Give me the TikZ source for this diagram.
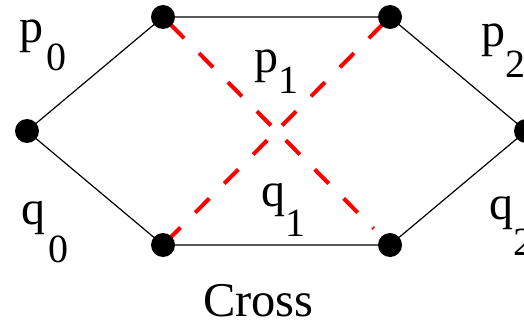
\documentclass[tikz,border=0pt]{standalone}
\usepackage{fontspec}
\setmainfont{Liberation Serif}
\newcommand{\lab}[4]{\fontsize{48}{48}\selectfont #1\kern#4pt\raisebox{-#3pt}{\fontsize{40}{40}\selectfont #2}}
\begin{document}
\begin{tikzpicture}[x=1pt,y=-1pt,
  dot/.style={circle,fill=black,inner sep=0pt,minimum size=24pt},
  edge/.style={line width=1.2pt,black},
  cross/.style={line width=4pt,red,dash pattern=on 20pt off 21pt,dash phase=31pt},
  txt/.style={anchor=base west,inner sep=0pt,outer sep=0pt}]
\useasboundingbox (0,0) rectangle (524,326);
\coordinate (l) at (27,131);
\coordinate (tl) at (163,17);
\coordinate (tr) at (390,17);
\coordinate (r) at (526,131);
\coordinate (bl) at (163,245);
\coordinate (br) at (390,245);
\draw[edge] (l) -- (tl) -- (tr) -- (r) -- (br) -- (bl) -- cycle;
\draw[cross,shorten >=23pt] (tl) -- (br);
\draw[cross] (tr) -- (bl);
\foreach \n in {l,tl,tr,r,bl,br} \node[dot] (d\n) at (\n) {};
\node[txt] (p0) at (19,42.6) {\lab{p}{0}{27.5}{3}};
\node[txt] (p1) at (254,72.6) {\lab{p}{1}{21}{0}};
\node[txt] (p2) at (481,47) {\lab{p}{2}{31}{0}};
\node[txt] (q0) at (21,224.6) {\lab{q}{0}{38}{3}};
\node[txt] (q1) at (261,206.6) {\lab{q}{1}{30}{0}};
\node[txt] (q2) at (489,219) {\lab{q}{2}{36}{0}};
\node[txt] (cross) at (203,316) {\fontsize{48.5}{48.5}\selectfont Cross};
\end{tikzpicture}
\end{document}
